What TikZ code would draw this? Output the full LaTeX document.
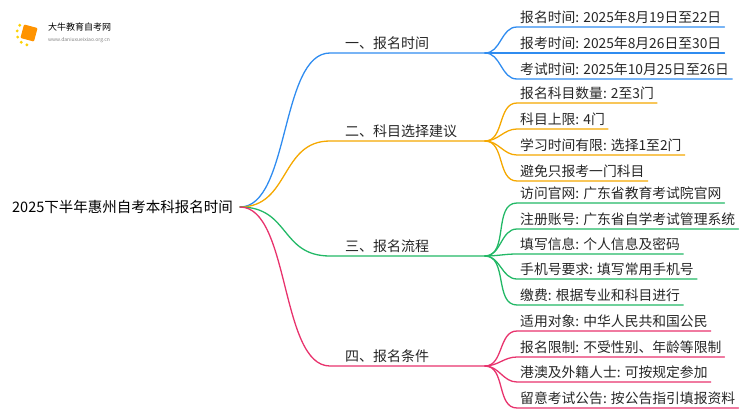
\documentclass[tikz,border=0pt]{standalone}
\usepackage{fontspec}
\setmainfont{Noto Sans CJK SC}
\definecolor{cb}{HTML}{2F8CF0}
\definecolor{co}{HTML}{F5A800}
\definecolor{cg}{HTML}{22B866}
\definecolor{cr}{HTML}{E8336D}
\begin{document}
\begin{tikzpicture}[x=1pt,y=-1pt,
  txt/.style={anchor=south west,inner xsep=3pt,inner ysep=3pt,font=\fontsize{13.8}{15}\selectfont,text=black!85},
  lone/.style={txt,font=\fontsize{14}{15}\selectfont},
  ln/.style={line width=1.3pt,line cap=round}]
\useasboundingbox (0,0) rectangle (750,410);
% logo
\fill[orange!85!yellow,rounded corners=1pt,rotate around={-15:(29,33)}] (22,26) rectangle (36,40);
\foreach \a in {100,130,160,190,220}{\fill[yellow!70!orange] (29,33)++(\a:12) circle (1.6);}
\node[anchor=west,font=\fontsize{9}{10}\selectfont,inner sep=0] (lg1) at (48,27) {大牛教育自考网};
\node[anchor=west,font=\fontsize{5}{6}\selectfont,inner sep=0,text=gray] (lg2) at (48,40) {www.daniuxueixiao.org.cn};
\node[anchor=west,inner sep=0,font=\fontsize{14.5}{15}\selectfont] (root) at (12,207) {2025下半年惠州自考本科报名时间};
\coordinate (r) at (240,207);
\newcommand\branch[4]{%
  \node[lone] (#2) at (342,#3) {#4};
  \coordinate (#2e) at (485,#3);
  \draw[ln,#1] (r) .. controls (290,207) and (280,#3) .. (330,#3) -- (#2e);}
\newcommand\kid[5]{\node[txt] (#3) at (517,#4) {#5};
  \draw[ln,#1] (#2e) to[out=0,in=180] (#3.south west) -- (#3.south east);}
\branch{cb}{b1}{53}{一、报名时间}
\kid{cb}{b1}{c11}{27}{报名时间: 2025年8月19日至22日}
\kid{cb}{b1}{c12}{53}{报考时间: 2025年8月26日至30日}
\kid{cb}{b1}{c13}{79}{考试时间: 2025年10月25日至26日}
\branch{co}{b2}{141}{二、科目选择建议}
\kid{co}{b2}{c21}{103}{报名科目数量: 2至3门}
\kid{co}{b2}{c22}{129}{科目上限: 4门}
\kid{co}{b2}{c23}{155}{学习时间有限: 选择1至2门}
\kid{co}{b2}{c24}{181}{避免只报考一门科目}
\branch{cg}{b3}{256}{三、报名流程}
\kid{cg}{b3}{c31}{203}{访问官网: 广东省教育考试院官网}
\kid{cg}{b3}{c32}{229}{注册账号: 广东省自学考试管理系统}
\kid{cg}{b3}{c33}{254}{填写信息: 个人信息及密码}
\kid{cg}{b3}{c34}{279}{手机号要求: 填写常用手机号}
\kid{cg}{b3}{c35}{305}{缴费: 根据专业和科目进行}
\branch{cr}{b4}{366}{四、报名条件}
\kid{cr}{b4}{c41}{331}{适用对象: 中华人民共和国公民}
\kid{cr}{b4}{c42}{357}{报名限制: 不受性别、年龄等限制}
\kid{cr}{b4}{c43}{382}{港澳及外籍人士: 可按规定参加}
\kid{cr}{b4}{c44}{408}{留意考试公告: 按公告指引填报资料}
\end{tikzpicture}
\end{document}
